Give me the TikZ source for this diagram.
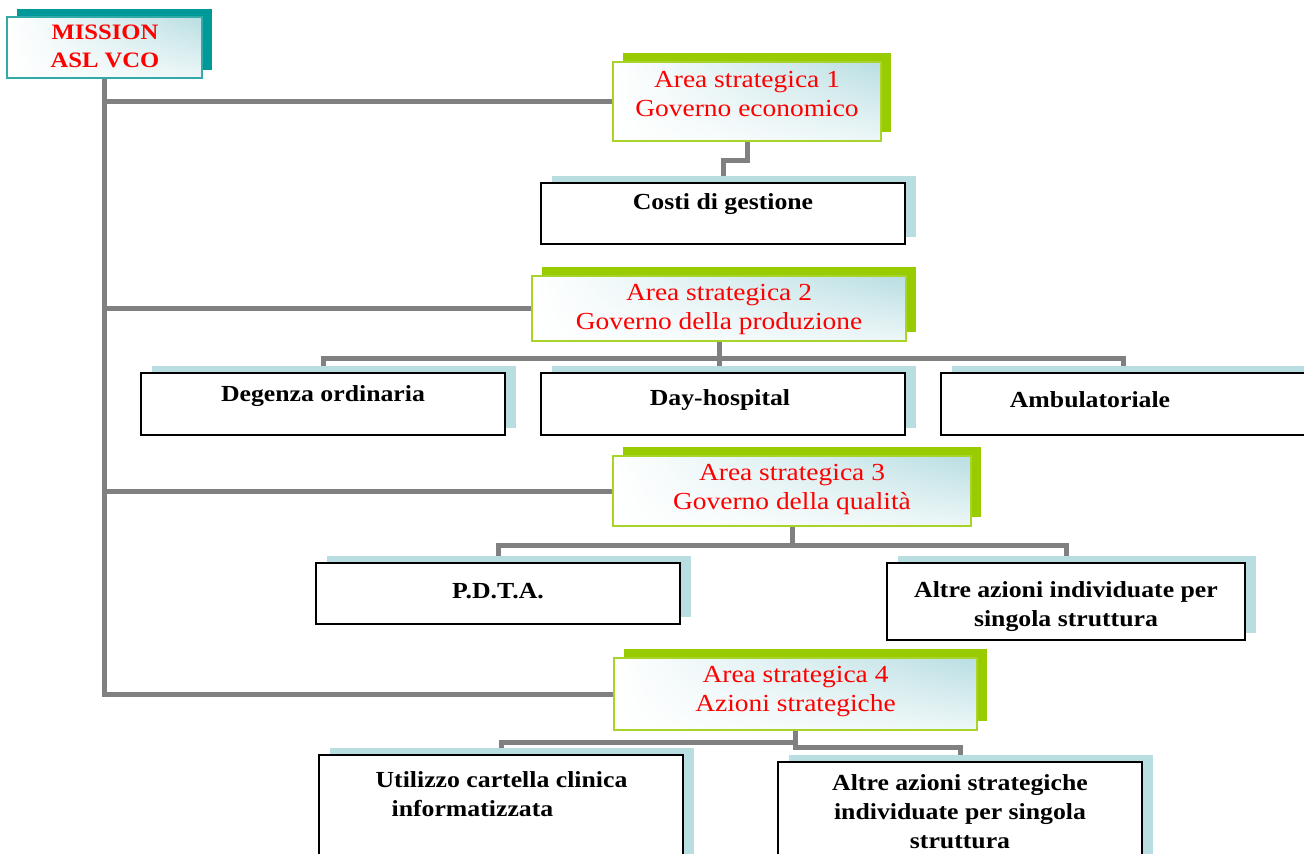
\documentclass[tikz,border=0pt]{standalone}
\usepackage{fontspec}
\setmainfont{Liberation Serif}[FakeStretch=1.12]
\usetikzlibrary{shadows,shadings,backgrounds}

\definecolor{missionteal}{HTML}{009999}
\definecolor{missionedge}{HTML}{33AAAA}
\definecolor{areagreen}{HTML}{99CC00}
\definecolor{areaedge}{HTML}{A8D42A}
\definecolor{boxblue}{HTML}{B8DEE2}
\definecolor{linkgray}{HTML}{808080}
\definecolor{titlered}{HTML}{FF0000}

\begin{document}
\begin{tikzpicture}[x=1pt,y=-1pt,
  every node/.style={inner sep=0pt, outer sep=0pt},
  link/.style={draw=linkgray, line width=5pt},
  glassfill/.style={upper left=white, lower left=white,
                    upper right=boxblue, lower right=boxblue!25!white},
  missionbox/.style={rectangle, glassfill, draw=missionedge, line width=1.5pt,
                     general shadow={fill=missionteal, shadow xshift=10pt, shadow yshift=8pt}},
  areabox/.style={rectangle, glassfill, draw=areaedge, line width=2pt,
                  general shadow={fill=areagreen, shadow xshift=10pt, shadow yshift=9pt}},
  itembox/.style={rectangle, fill=white, draw=black, line width=2.8pt,
                  general shadow={fill=boxblue, shadow xshift=11pt, shadow yshift=7pt}},
  missiontext/.style={text=titlered, align=center, font=\bfseries\fontsize{22}{28}\selectfont},
  areatext/.style={text=titlered, align=center, font=\fontsize{24.5}{29}\selectfont},
  itemtext/.style={text=black, align=center, font=\bfseries\fontsize{23}{29}\selectfont}
]
\useasboundingbox (0,0) rectangle (1304,854);
\clip (0,0) rectangle (1304,854);

% mission
\node[missionbox, minimum width=195pt, minimum height=61pt] (mission) at (104.5,47.5) {};
\node[missiontext] (missiont) at (105,46) {MISSION\\ASL VCO};

% strategic areas
\node[areabox, minimum width=268pt, minimum height=79pt] (a1) at (747,101.5) {};
\node[areatext] (a1t) at (747,94) {Area strategica 1\\Governo economico};

\node[areabox, minimum width=374pt, minimum height=65pt] (a2) at (719,308.5) {};
\node[areatext] (a2t) at (719,309.5) {Area strategica 2\\Governo della produzione};

\node[areabox, minimum width=358pt, minimum height=70pt] (a3) at (792,491) {};
\node[areatext] (a3t) at (792,489.5) {Area strategica 3\\Governo della qualità};

\node[areabox, minimum width=363pt, minimum height=72pt] (a4) at (795.5,694) {};
\node[areatext] (a4t) at (795.5,692) {Area strategica 4\\Azioni strategiche};

% area 1 items
\node[itembox, minimum width=364pt, minimum height=61pt] (costi) at (723,213.5) {};
\node[itemtext] (costit) at (723,204) {Costi di gestione};

% area 2 items
\node[itembox, minimum width=364pt, minimum height=62pt] (deg) at (323,404) {};
\node[itemtext] (degt) at (323,396) {Degenza ordinaria};
\node[itembox, minimum width=364pt, minimum height=62pt] (day) at (723,404) {};
\node[itemtext] (dayt) at (720,400) {Day-hospital};
\node[itembox, minimum width=364pt, minimum height=62pt] (amb) at (1123,404) {};
\node[itemtext] (ambt) at (1090,400) {Ambulatoriale};

% area 3 items
\node[itembox, minimum width=364pt, minimum height=61pt] (pdta) at (498,593.5) {};
\node[itemtext] (pdtat) at (498,591) {P.D.T.A.};
\node[itembox, minimum width=358pt, minimum height=77pt] (altre3) at (1066,601.5) {};
\node[itemtext] (altre3t) at (1066,607) {Altre azioni individuate per\\singola struttura};

% area 4 items
\node[itembox, minimum width=364pt, minimum height=120pt] (util) at (501,815) {};
\node[itemtext, align=left] (utilt) at (501.5,794) {Utilizzo cartella clinica\\\hspace*{16pt}informatizzata};
\node[itembox, minimum width=364pt, minimum height=120pt] (altre4) at (960,822) {};
\node[itemtext] (altre4t) at (960,812) {Altre azioni strategiche\\individuate per singola\\struttura};

% connectors
\begin{scope}[on background layer]
  \draw[link] (mission.south) |- (a1.west);
  \draw[link] (mission.south) |- (a2.west);
  \draw[link] (mission.south) |- (a3.west);
  \draw[link] (mission.south) |- (a4.west);

  \draw[link] (a1.south) -- ++(0,19) -| (costi.north);

  \draw[link] (a2.south) -- ++(0,17) coordinate (h2);
  \draw[link] (deg.north) |- (h2) -| (amb.north);
  \draw[link] (h2) -- (h2 |- day.north);

  \draw[link] (a3.south) -- ++(0,19) coordinate (h3);
  \draw[link] (pdta.north) |- (h3) -| (altre3.north);

  \draw[link] (a4.south) -- ++(0,12) -| (util.north);
  \draw[link] (a4.south) -- ++(0,17) -| (altre4.north);
\end{scope}
\end{tikzpicture}
\end{document}
